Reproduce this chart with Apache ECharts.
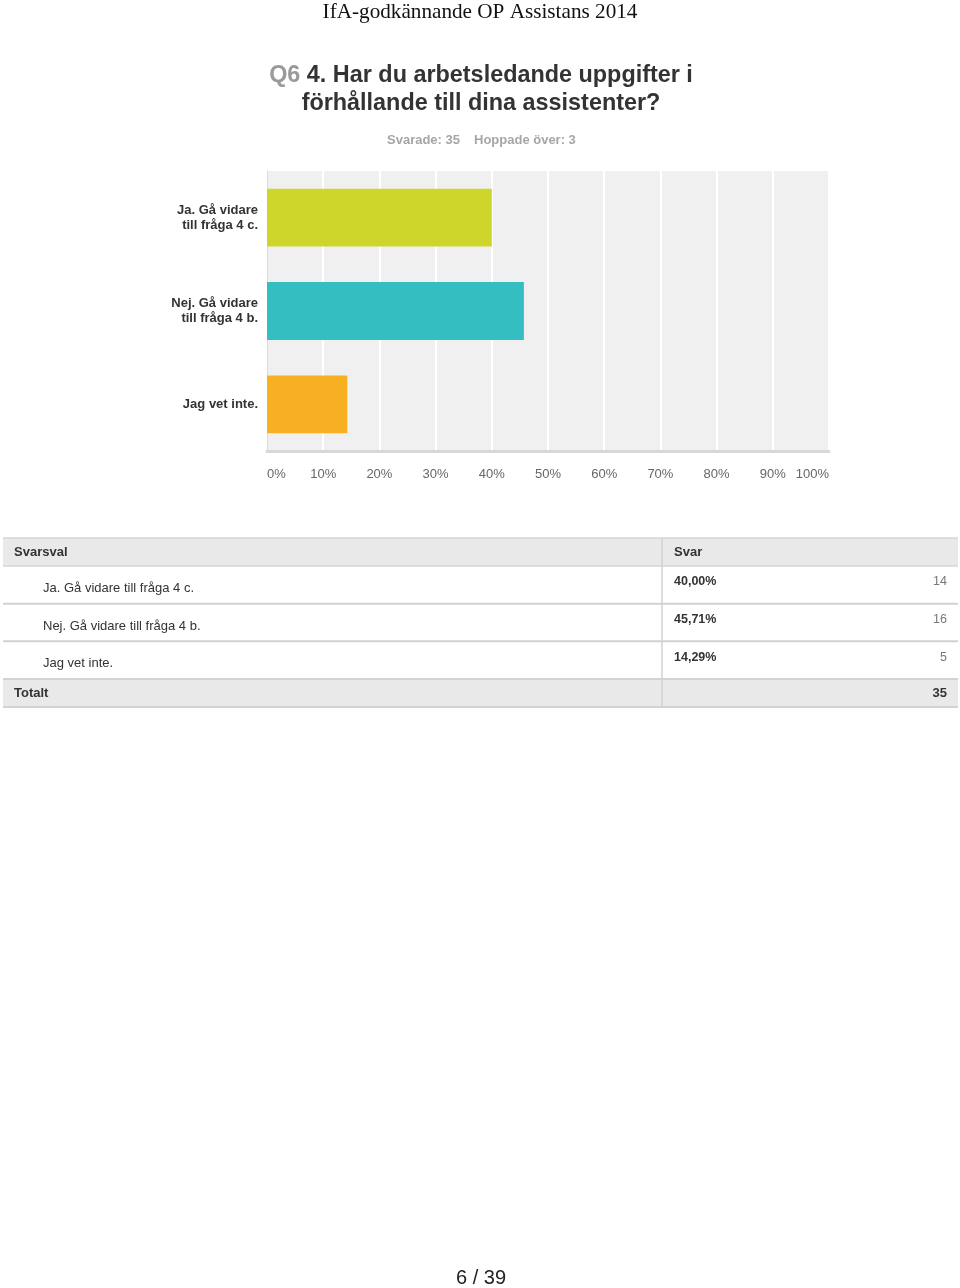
<!DOCTYPE html>
<html>
<head>
<meta charset="utf-8">
<script src="https://cdn.jsdelivr.net/npm/echarts@6/dist/echarts.min.js"></script>
<style>
html,body{margin:0;padding:0;background:#fff;}
#c{width:960px;height:1288px;}
</style>
</head>
<body>
<div id="c"></div>
<script>
var categories = ['Ja. Gå vidare\ntill fråga 4 c.', 'Nej. Gå vidare\ntill fråga 4 b.', 'Jag vet inte.'];
var tableLabels = ['Ja. Gå vidare till fråga 4 c.', 'Nej. Gå vidare till fråga 4 b.', 'Jag vet inte.'];
var percents = [40.00, 45.71, 14.29];
var counts = [14, 16, 5];
var barColors = ['#ced52b', '#35bec1', '#f7b021'];
var xTicks = [0, 10, 20, 30, 40, 50, 60, 70, 80, 90, 100];
var total = 35;
var skipped = 3;

(function () {
var FONT = '"Liberation Sans", Arial, sans-serif';
var chart = echarts.init(document.getElementById('c'));

function fmtPct(v) { return v.toFixed(2).replace('.', ','); }

var graphics = [];
graphics.push({type:'text', style:{text:'IfA-godkännande OP Assistans 2014', x:480, y:12, align:'center', verticalAlign:'middle', font:'21.2px "Liberation Serif", "Times New Roman", serif', fill:'#111'}});
graphics.push({type:'text', style:{text:'{q|Q6} {m|4. Har du arbetsledande uppgifter i}', x:481, y:76, align:'center', verticalAlign:'middle',
  rich:{q:{fontFamily:FONT, fontSize:23.4, fontWeight:'bold', fill:'#9a9a9a'}, m:{fontFamily:FONT, fontSize:23.4, fontWeight:'bold', fill:'#333'}}, font:'bold 23.4px '+FONT, fill:'#333'}});
graphics.push({type:'text', style:{text:'förhållande till dina assistenter?', x:481, y:104, align:'center', verticalAlign:'middle', font:'bold 23.4px '+FONT, fill:'#333'}});
graphics.push({type:'text', style:{text:'Svarade: ' + total, x:387, y:140, align:'left', verticalAlign:'middle', font:'bold 13px '+FONT, fill:'#a6a6a6'}});
graphics.push({type:'text', style:{text:'Hoppade över: ' + skipped, x:474, y:140, align:'left', verticalAlign:'middle', font:'bold 13px '+FONT, fill:'#a6a6a6'}});

var tL = 3, tR = 958, colX = 662, headTop = 538, headBot = 566, totTop = 679, totBot = 707;
var rowH = (totTop - headBot) / tableLabels.length;
graphics.push({type:'rect', shape:{x:tL, y:headTop, width:tR-tL, height:headBot-headTop}, style:{fill:'#e9e9e9'}});
graphics.push({type:'rect', shape:{x:tL, y:totTop, width:tR-tL, height:totBot-totTop}, style:{fill:'#e9e9e9'}});
graphics.push({type:'line', shape:{x1:tL, y1:headTop, x2:tR, y2:headTop}, style:{stroke:'#d6d6d6', lineWidth:1.5}});
graphics.push({type:'line', shape:{x1:tL, y1:headBot, x2:tR, y2:headBot}, style:{stroke:'#d6d6d6', lineWidth:1.5}});
for (var i = 0; i < tableLabels.length; i++) {
  var rTop = headBot + i * rowH, rBot = rTop + rowH;
  graphics.push({type:'line', shape:{x1:tL, y1:rBot, x2:tR, y2:rBot}, style:{stroke:'#d2d2d2', lineWidth:2}});
  graphics.push({type:'text', style:{text:tableLabels[i], x:43, y:rTop + rowH/2 + 3.5, align:'left', verticalAlign:'middle', font:'13px '+FONT, fill:'#333'}});
  graphics.push({type:'text', style:{text:fmtPct(percents[i]) + '%', x:674, y:rTop + 16, align:'left', verticalAlign:'middle', font:'bold 12.5px '+FONT, fill:'#333'}});
  graphics.push({type:'text', style:{text:String(counts[i]), x:947, y:rTop + 16, align:'right', verticalAlign:'middle', font:'12.5px '+FONT, fill:'#777'}});
}
graphics.push({type:'line', shape:{x1:tL, y1:totBot, x2:tR, y2:totBot}, style:{stroke:'#d2d2d2', lineWidth:2}});
graphics.push({type:'line', shape:{x1:colX, y1:headTop, x2:colX, y2:totBot}, style:{stroke:'#d2d2d2', lineWidth:1.5}});
graphics.push({type:'text', style:{text:'Svarsval', x:14, y:552.5, align:'left', verticalAlign:'middle', font:'bold 13px '+FONT, fill:'#333'}});
graphics.push({type:'text', style:{text:'Svar', x:674, y:552.5, align:'left', verticalAlign:'middle', font:'bold 13px '+FONT, fill:'#333'}});
graphics.push({type:'text', style:{text:'Totalt', x:14, y:693.5, align:'left', verticalAlign:'middle', font:'bold 13px '+FONT, fill:'#333'}});
graphics.push({type:'text', style:{text:String(total), x:947, y:693.5, align:'right', verticalAlign:'middle', font:'bold 13px '+FONT, fill:'#333'}});
graphics.push({type:'text', style:{text:'6 / 39', x:481, y:1278, align:'center', verticalAlign:'middle', font:'20px '+FONT, fill:'#222'}});

chart.setOption({
  animation:false,
  backgroundColor:'#fff',
  textStyle:{fontFamily:FONT},
  grid:{left:267, top:171, width:562, height:280, show:true, backgroundColor:'#f0f0f0', borderWidth:0, containLabel:false},
  xAxis:{type:'value', min:0, max:100, interval:10,
    axisLine:{show:true, lineStyle:{color:'#d8d8d8', width:3}},
    axisTick:{show:false},
    splitLine:{show:true, lineStyle:{color:'#ffffff', width:2}},
    axisLabel:{formatter:function(v){return v + '%';}, color:'#666', fontSize:13, margin:17, fontFamily:FONT, alignMinLabel:'left', alignMaxLabel:'right'}
  },
  yAxis:{type:'category', data:categories, inverse:true,
    axisLine:{show:true, lineStyle:{color:'#dcdcdc', width:1}},
    axisTick:{show:false},
    splitLine:{show:false},
    axisLabel:{color:'#333', fontSize:13, fontWeight:'bold', margin:9, lineHeight:15, fontFamily:FONT}
  },
  series:[{type:'bar', barWidth:'62%',
    data:percents.map(function(v, i){return {value:v, itemStyle:{color:barColors[i]}};}),
    z:3
  }],
  graphic:graphics
});
})();
</script>
</body>
</html>
